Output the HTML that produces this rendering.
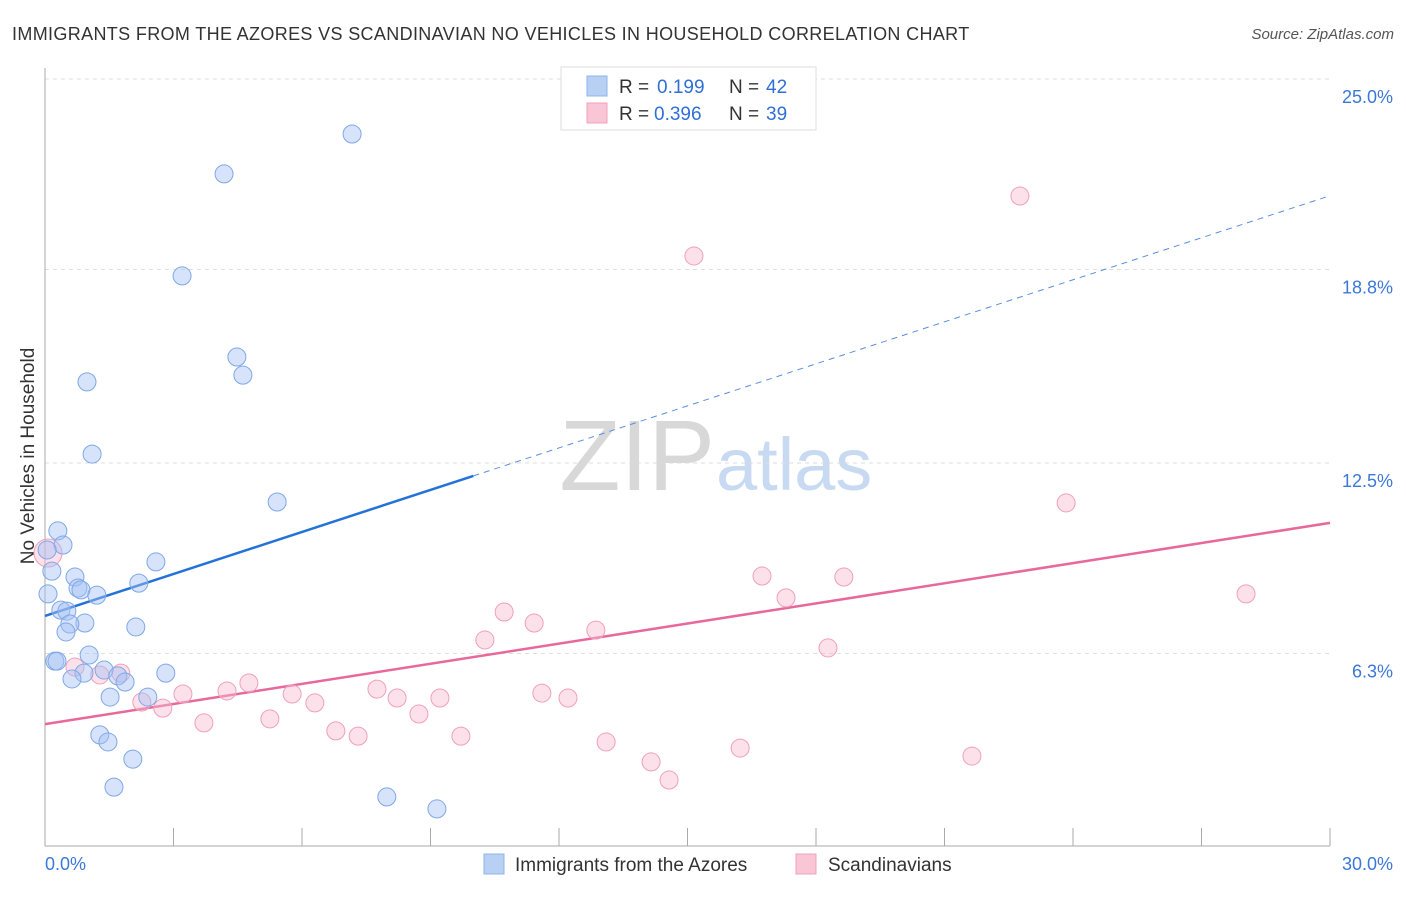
<!DOCTYPE html>
<html><head><meta charset="utf-8"><style>
body{margin:0;background:#fff;font-family:"Liberation Sans",sans-serif;}
svg text{font-family:"Liberation Sans",sans-serif;}
</style></head><body>
<svg id="c" width="1406" height="892" xmlns="http://www.w3.org/2000/svg">
<text x="12" y="40" font-size="18" fill="#333" letter-spacing="0.35">IMMIGRANTS FROM THE AZORES VS SCANDINAVIAN NO VEHICLES IN HOUSEHOLD CORRELATION CHART</text>
<text x="1394" y="39" font-size="15" fill="#555" font-style="italic" text-anchor="end">Source: ZipAtlas.com</text>
<text x="34" y="456" font-size="19" fill="#333" transform="rotate(-90 34 456)" text-anchor="middle">No Vehicles in Household</text>
<text x="715" y="490" font-size="100" fill="#d8d8d8" text-anchor="end" font-family="Liberation Serif">ZIP</text>
<text x="716" y="490" font-size="74" fill="#c8daf2">atlas</text>
<g id="grid"></g><g id="axes"></g><g id="lines"></g><g id="pts"></g>
<g>
<rect x="561" y="67" width="255" height="63" fill="#fff" stroke="#ddd"/>
<rect x="587" y="76" width="20" height="20" fill="#b8d0f4" stroke="#8fb4ec"/>
<text x="619" y="93" font-size="19" fill="#333">R =</text><text x="657" y="93" font-size="19" fill="#2f6fd6">0.199</text>
<text x="729" y="93" font-size="19" fill="#333">N =</text><text x="766" y="93" font-size="19" fill="#2f6fd6">42</text>
<rect x="587" y="103" width="20" height="20" fill="#f9c6d6" stroke="#f0a0bc"/>
<text x="619" y="120" font-size="19" fill="#333">R =</text><text x="654" y="120" font-size="19" fill="#2f6fd6">0.396</text>
<text x="729" y="120" font-size="19" fill="#333">N =</text><text x="766" y="120" font-size="19" fill="#2f6fd6">39</text>
</g>
<g>
<rect x="484" y="854" width="20" height="20" fill="#b8d0f4" stroke="#8fb4ec"/>
<text x="515" y="871" font-size="19" fill="#333">Immigrants from the Azores</text>
<rect x="796" y="854" width="20" height="20" fill="#f9c6d6" stroke="#f0a0bc"/>
<text x="828" y="871" font-size="19" fill="#333">Scandinavians</text>
</g>
</svg>
<script>
const yTicks=[25.0,18.8,12.5,6.3];
const yTickLabels=["25.0%","18.8%","12.5%","6.3%"];
const xTickLabels=["0.0%","30.0%"];
const blueX=[7.17,4.18,3.20,4.48,4.62,0.98,1.10,5.42,0.30,0.42,0.05,0.16,2.59,0.70,2.19,0.77,0.84,1.21,0.07,0.37,0.51,0.93,0.58,0.49,2.12,0.23,0.28,1.03,1.38,0.91,1.70,1.87,2.82,0.63,1.52,2.40,1.28,1.47,2.05,1.61,7.98,9.15];
const blueY=[23.21,21.91,18.59,15.95,15.36,15.14,12.79,11.23,10.29,9.83,9.67,8.98,9.28,8.79,8.59,8.43,8.37,8.20,8.24,7.71,7.68,7.29,7.26,7.00,7.16,6.05,6.05,6.25,5.76,5.66,5.57,5.37,5.66,5.47,4.88,4.88,3.65,3.42,2.86,1.95,1.63,1.24];
const pinkX=[22.76,15.15,23.84,28.04,16.74,18.65,17.30,10.72,11.42,12.86,10.27,18.28,0.07,0.70,1.28,1.77,4.76,3.22,4.25,2.26,2.75,5.77,6.30,7.75,8.22,9.22,11.60,12.21,8.73,3.71,5.25,6.79,7.31,9.71,13.10,16.23,14.15,14.57,21.64];
const pinkY=[21.19,19.24,11.20,8.24,8.82,8.79,8.11,7.65,7.29,7.06,6.74,6.48,9.57,5.86,5.60,5.66,5.34,4.98,5.08,4.72,4.52,4.98,4.69,5.14,4.85,4.85,5.01,4.85,4.33,4.04,4.17,3.78,3.61,3.61,3.42,3.22,2.77,2.18,2.96];
const pinkR=[9,9,9,9,9,9,9,9,9,9,9,9,14,9,9,9,9,9,9,9,9,9,9,9,9,9,9,9,9,9,9,9,9,9,9,9,9,9,9];
const blueLine=[7.52,21.2];
const pinkLine=[4.00,10.55];
const blueSolidEnd=10.0;
const NS="http://www.w3.org/2000/svg";
const sx=v=>45+v*(1285/30);
const sy=v=>847-v*30.72;
function mk(t,a,p){const e=document.createElementNS(NS,t);for(const k in a)e.setAttribute(k,a[k]);document.getElementById(p).appendChild(e);return e;}
yTicks.forEach((t,i)=>{
  const g=mk('line',{x1:45,x2:1330,y1:sy(t),y2:sy(t),stroke:'#ddd','stroke-dasharray':'4,4'},'grid');
  
  
  const l=mk('text',{x:1393,y:sy(t)+24,'font-size':18,fill:'#3b78d8','text-anchor':'end'},'axes');
  l.textContent=yTickLabels[i];
  
  
});
let a=mk('line',{x1:45,x2:45,y1:68,y2:846,stroke:'#aaa'},'axes');

a=mk('line',{x1:45,x2:1330,y1:846,y2:846,stroke:'#aaa'},'axes');

for(let i=0;i<=10;i++){const x=45+i*128.5;const t=mk('line',{x1:x,x2:x,y1:828,y2:846,stroke:'#aaa'},'axes');

}
let xl=mk('text',{x:45,y:870,'font-size':18,fill:'#3b78d8'},'axes');xl.textContent=xTickLabels[0];

xl=mk('text',{x:1393,y:870,'font-size':18,fill:'#3b78d8','text-anchor':'end'},'axes');xl.textContent=xTickLabels[1];

function pts(X,Y,fill,stroke,name,R){X.forEach((x,i)=>{const c=mk('circle',{cx:sx(x),cy:sy(Y[i]),r:R?R[i]:9,fill:fill,stroke:stroke,'stroke-width':1},'pts');

});}
pts(pinkX,pinkY,'rgba(248,187,208,0.45)','#f0a0bc','scandinavian-point',pinkR);
pts(blueX,blueY,'rgba(164,194,244,0.45)','#7fa8e8','azores-point');
const bAt=x=>blueLine[0]+(blueLine[1]-blueLine[0])*x/30;
let ln=mk('line',{x1:sx(0),y1:sy(bAt(0)),x2:sx(blueSolidEnd),y2:sy(bAt(blueSolidEnd)),stroke:'#2472d8','stroke-width':2.5},'lines');

ln=mk('line',{x1:sx(blueSolidEnd),y1:sy(bAt(blueSolidEnd)),x2:sx(30),y2:sy(bAt(30)),stroke:'#5a8fdc','stroke-width':1,'stroke-dasharray':'6,5'},'lines');

ln=mk('line',{x1:sx(0),y1:sy(pinkLine[0]),x2:sx(30),y2:sy(pinkLine[1]),stroke:'#e8689a','stroke-width':2.5},'lines');

</script>
</body></html>
